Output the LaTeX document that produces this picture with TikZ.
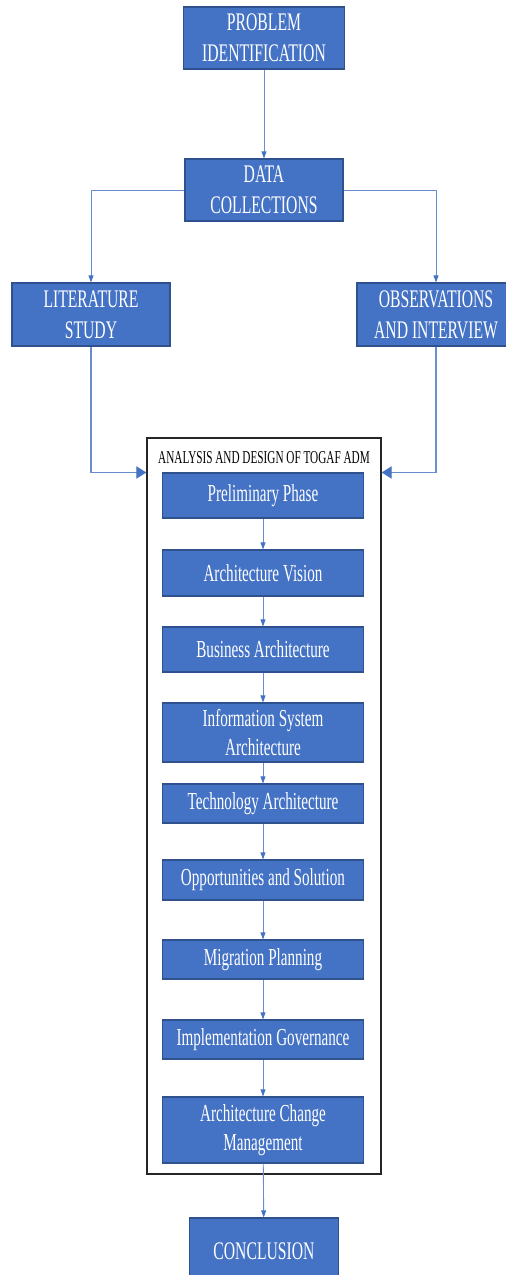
\documentclass[tikz,border=0pt]{standalone}
\usepackage{fontspec}
\setmainfont[FakeStretch=0.62]{Liberation Serif}
\usetikzlibrary{arrows.meta}
\definecolor{boite}{HTML}{4472C4}
\definecolor{bord}{HTML}{2F528F}

\begin{document}
\begin{tikzpicture}[x=0.02cm,y=-0.02cm,
    etape/.style={draw=bord, line width=0.6pt, fill=boite, text=white,
        inner sep=0pt, align=center, font=\fontsize{14.4}{17.8}\selectfont},
    phase/.style={etape, minimum width=4.02cm, font=\fontsize{13.9}{16.5}\selectfont},
    fleche/.style={draw=boite!80, line width=0.5pt, -{Triangle[width=2.8pt,length=4pt,color=boite]}},
    grosse/.style={draw=boite!80, line width=0.6pt, -{Triangle[width=7pt,length=5.7pt,color=boite]}}]

\useasboundingbox (0,0) rectangle (505,1275);

%colonne du haut
\node[etape, minimum width=3.22cm, minimum height=1.24cm] (pb) at (264,38) {PROBLEM\\IDENTIFICATION};
\node[etape, minimum width=3.16cm, minimum height=1.24cm] (data) at (264,190) {DATA\\COLLECTIONS};
\node[etape, minimum width=3.16cm, minimum height=1.26cm] (lit) at (91,314.5) {LITERATURE\\STUDY};
\node[etape, minimum width=3.16cm, minimum height=1.26cm] (obs) at (436,314.5) {OBSERVATIONS\\AND INTERVIEW};

%cadre TOGAF ADM
\node[draw=black!85, line width=0.8pt, minimum width=4.68cm, minimum height=14.72cm, inner sep=0pt] (adm) at (264,806) {};
\node[font=\fontsize{10.3}{12}\selectfont] (titre) at (264,458) {ANALYSIS AND DESIGN OF TOGAF ADM};

%phases de l'ADM
\foreach \nom/\y/\h/\txt in {%
    pre/495.5/0.90/{Preliminary Phase},%
    vis/573/0.92/{Architecture Vision},%
    bus/649.5/0.90/{Business Architecture},%
    isa/732.5/1.18/{Information System\\Architecture},%
    tech/803.5/0.78/{Technology Architecture},%
    opp/880/0.80/{Opportunities and Solution},%
    mig/959.5/0.78/{Migration Planning},%
    imp/1039.5/0.78/{Implementation Governance},%
    acm/1130/1.32/{Architecture Change\\Management}%
}{
    \node[phase, minimum height=\h cm] (\nom) at (263,\y) {\txt};
}
\foreach \a/\b in {pre/vis,vis/bus,bus/isa,isa/tech,tech/opp,opp/mig,mig/imp,imp/acm}
    \draw[fleche] (\a) -- (\b);

\node[etape, minimum width=2.98cm, minimum height=1.32cm] (conc) at (264,1251) {CONCLUSION};

%liaisons
\draw[fleche] (pb) -- (data);
\draw[fleche] (data.west) -| (lit.north);
\draw[fleche] (data.east) -| (obs.north);
\coordinate (entreeG) at (adm.west |- pre.north);
\coordinate (entreeD) at (adm.east |- pre.north);
\draw[grosse] (lit.south) |- (entreeG);
\draw[grosse] (obs.south) |- (entreeD);
\draw[fleche] (acm) -- (conc);
\end{tikzpicture}
\end{document}
